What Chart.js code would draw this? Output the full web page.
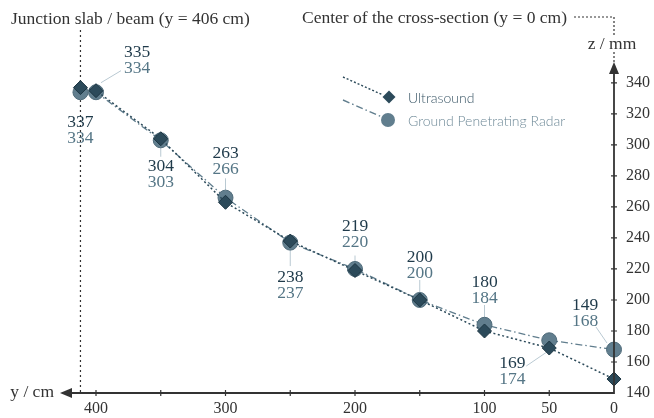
<!DOCTYPE html>
<html lang="en">
<head>
  <meta charset="UTF-8">
  <title>Ultrasound vs GPR</title>
  <style>
    html, body { margin: 0; padding: 0; background: #fff; }
    #chart { display: block; }
  </style>
</head>
<body>
  <canvas id="chart" width="654" height="418"></canvas>

  <script src="https://cdn.jsdelivr.net/npm/chart.js"></script>
  <script>
    // position along the beam (cm), first point = junction slab / beam
    const positions = [412, 400, 350, 300, 250, 200, 150, 100, 50, 0];
    const ultrasound = [337, 335, 304, 263, 238, 219, 200, 180, 169, 149];
    const gpr = [334, 334, 303, 266, 237, 220, 200, 184, 174, 168];

    const xTickMarks = [400, 350, 300, 250, 200, 150, 100, 50, 0];
    const xTickLabels = [400, 300, 200, 100, 50, 0];
    const yTicks = [140, 160, 180, 200, 220, 240, 260, 280, 300, 320, 340];

    const junction = 412;

    const US_COLOR = '#2c4a5a';
    const GPR_COLOR = '#617e8e';
    const AXIS = '#333333';

    // label placement (px, relative to the ultrasound point): label dx, dy, leader from -> to
    const labelLayout = [
      { dx: 0, dy: 35, leader: null },
      { dx: 41, dy: -38, leader: [5, -8, 25, -20] },
      { dx: 0, dy: 28, leader: [0, 8, 0, 18] },
      { dx: 0, dy: -49, leader: [0, -24, 0, -12] },
      { dx: 0, dy: 36, leader: [0, 9, 0, 25] },
      { dx: 0, dy: -44, leader: [0, -15, 0, -8] },
      { dx: 0, dy: -43, leader: [0, -20, 0, -8] },
      { dx: 0, dy: -49, leader: [0, -26, 0, -13] },
      { dx: -37, dy: 15, leader: [-1, 3, -23, 18] },
      { dx: -29, dy: -74, leader: [-7, -36, -18, -52] }
    ];

    const SERIF = '"Liberation Serif", "DejaVu Serif", serif';
    const SANS = 'Lato, "Open Sans", sans-serif';

    Chart.defaults.font.family = SERIF;

    function dotted(ctx, x1, y1, x2, y2, dash) {
      ctx.save();
      ctx.setLineDash(dash);
      ctx.beginPath();
      ctx.moveTo(x1, y1);
      ctx.lineTo(x2, y2);
      ctx.stroke();
      ctx.restore();
    }

    function diamond(ctx, x, y, r) {
      ctx.beginPath();
      ctx.moveTo(x, y - r);
      ctx.lineTo(x + r, y);
      ctx.lineTo(x, y + r);
      ctx.lineTo(x - r, y);
      ctx.closePath();
    }

    const decorPlugin = {
      id: 'decor',
      beforeDatasetsDraw(chart) {
        const { ctx, scales: { x, y } } = chart;
        // leader lines
        ctx.save();
        ctx.strokeStyle = '#b9c9d2';
        ctx.lineWidth = 1;
        positions.forEach((p, i) => {
          const L = labelLayout[i].leader;
          if (!L) return;
          const px = x.getPixelForValue(p);
          const py = y.getPixelForValue(ultrasound[i]);
          ctx.beginPath();
          ctx.moveTo(px + L[0], py + L[1]);
          ctx.lineTo(px + L[2], py + L[3]);
          ctx.stroke();
        });
        ctx.restore();

        // junction dotted line
        const jx = x.getPixelForValue(junction);
        ctx.save();
        ctx.strokeStyle = '#333';
        ctx.lineWidth = 1.2;
        dotted(ctx, jx, 30, jx, chart.chartArea.bottom, [2, 3]);
        ctx.restore();
      },
      afterDraw(chart) {
        const { ctx, chartArea: a, scales: { x, y } } = chart;
        const x0 = x.getPixelForValue(0);
        const y0 = y.getPixelForValue(140);

        ctx.save();
        // axes
        ctx.strokeStyle = AXIS;
        ctx.fillStyle = AXIS;
        ctx.lineWidth = 1.8;
        ctx.beginPath();
        ctx.moveTo(a.left + 10, y0);
        ctx.lineTo(x0, y0);
        ctx.moveTo(x0, y0 + 1);
        ctx.lineTo(x0, a.top + 10);
        ctx.stroke();
        // arrows
        ctx.beginPath();
        ctx.moveTo(a.left, y0);
        ctx.lineTo(a.left + 12, y0 - 5);
        ctx.lineTo(a.left + 12, y0 + 5);
        ctx.closePath();
        ctx.fill();
        ctx.beginPath();
        ctx.moveTo(x0, a.top);
        ctx.lineTo(x0 - 5, a.top + 12);
        ctx.lineTo(x0 + 5, a.top + 12);
        ctx.closePath();
        ctx.fill();
        // tick marks
        ctx.lineWidth = 1.2;
        ctx.beginPath();
        xTickMarks.forEach(v => {
          const px = x.getPixelForValue(v);
          if (v === 0) return;
          ctx.moveTo(px, y0 - 3);
          ctx.lineTo(px, y0 + 3);
        });
        yTicks.forEach(v => {
          const py = y.getPixelForValue(v);
          if (v === 140) return;
          ctx.moveTo(x0 - 3, py);
          ctx.lineTo(x0 + 3, py);
        });
        ctx.stroke();

        // axis titles
        ctx.font = '17.5px ' + SERIF;
        ctx.textBaseline = 'middle';
        ctx.textAlign = 'right';
        ctx.fillText('y / cm', a.left - 6, y0 - 1);
        ctx.textAlign = 'center';
        ctx.fillText('z / mm', x0 - 2, 44);

        // annotations on top
        ctx.fillStyle = '#333';
        ctx.textAlign = 'left';
        ctx.fillText('Junction slab / beam (y = 406 cm)', 11, 19);
        ctx.textAlign = 'right';
        ctx.fillText('Center of the cross-section (y = 0 cm)', 567, 18);
        ctx.strokeStyle = '#333';
        ctx.lineWidth = 1.2;
        dotted(ctx, 574, 17, x0, 17, [2, 2]);
        dotted(ctx, x0, 17, x0, 36, [2, 2]);
        dotted(ctx, x0, 52, x0, a.top, [2, 2]);

        // legend
        ctx.lineWidth = 1.4;
        ctx.strokeStyle = US_COLOR;
        dotted(ctx, 343, 77, 383, 95, [2, 2]);
        ctx.strokeStyle = GPR_COLOR;
        dotted(ctx, 343, 100, 382, 117, [7, 3, 1.5, 3]);
        ctx.fillStyle = US_COLOR;
        diamond(ctx, 389, 97, 6.5);
        ctx.fill();
        ctx.fillStyle = GPR_COLOR;
        ctx.beginPath();
        ctx.arc(388, 120, 7, 0, Math.PI * 2);
        ctx.fill();
        ctx.font = '300 14px ' + SANS;
        ctx.textAlign = 'left';
        ctx.fillStyle = '#3b5767';
        ctx.fillText('Ultrasound', 408, 98);
        ctx.fillStyle = '#6f8a98';
        ctx.fillText('Ground Penetrating Radar', 408, 121);

        // value labels
        ctx.font = '17.5px ' + SERIF;
        ctx.textAlign = 'center';
        positions.forEach((p, i) => {
          const px = x.getPixelForValue(p) + labelLayout[i].dx;
          const py = y.getPixelForValue(ultrasound[i]) + labelLayout[i].dy;
          ctx.fillStyle = '#1f3a4a';
          ctx.fillText(String(ultrasound[i]), px, py);
          ctx.fillStyle = '#557686';
          ctx.fillText(String(gpr[i]), px, py + 16);
        });
        ctx.restore();
      }
    };

    const toPoints = arr => arr.map((v, i) => ({ x: positions[i], y: v }));

    new Chart(document.getElementById('chart'), {
      type: 'scatter',
      data: {
        datasets: [
          {
            label: 'Ultrasound',
            data: toPoints(ultrasound),
            showLine: true,
            borderColor: US_COLOR,
            borderWidth: 1.5,
            borderDash: [2, 2.5],
            pointStyle: 'rectRot',
            pointRadius: 7,
            pointBackgroundColor: US_COLOR,
            pointBorderColor: '#1d3643',
            pointBorderWidth: 1,
            clip: false
          },
          {
            label: 'Ground Penetrating Radar',
            data: toPoints(gpr),
            showLine: true,
            borderColor: GPR_COLOR,
            borderWidth: 1.3,
            borderDash: [7, 3, 1.5, 3],
            pointStyle: 'circle',
            pointRadius: 7.5,
            pointBackgroundColor: GPR_COLOR,
            pointBorderColor: '#4f6b7a',
            pointBorderWidth: 1,
            clip: false
          }
        ]
      },
      options: {
        responsive: false,
        animation: false,
        devicePixelRatio: 1,
        layout: { padding: { left: 60, top: 62, right: 0, bottom: 0 } },
        plugins: {
          legend: { display: false },
          tooltip: { enabled: false }
        },
        scales: {
          x: {
            type: 'linear',
            reverse: true,
            min: 0,
            max: 427.8,
            grid: { display: false, drawTicks: false },
            border: { display: false },
            afterBuildTicks: s => { s.ticks = xTickMarks.map(v => ({ value: v })); },
            afterFit: s => { s.height = 25; },
            ticks: {
              autoSkip: false,
              maxRotation: 0,
              padding: 6,
              color: '#333',
              font: { size: 16 },
              callback: v => xTickLabels.includes(v) ? String(v) : ''
            }
          },
          y: {
            position: 'right',
            min: 140,
            max: 353.5,
            grid: { display: false, drawTicks: false },
            border: { display: false },
            afterBuildTicks: s => { s.ticks = yTicks.map(v => ({ value: v })); },
            afterFit: s => { s.width = 40; },
            ticks: {
              padding: 12,
              color: '#333',
              font: { size: 16 }
            }
          }
        }
      },
      plugins: [decorPlugin]
    });
  </script>
</body>
</html>
